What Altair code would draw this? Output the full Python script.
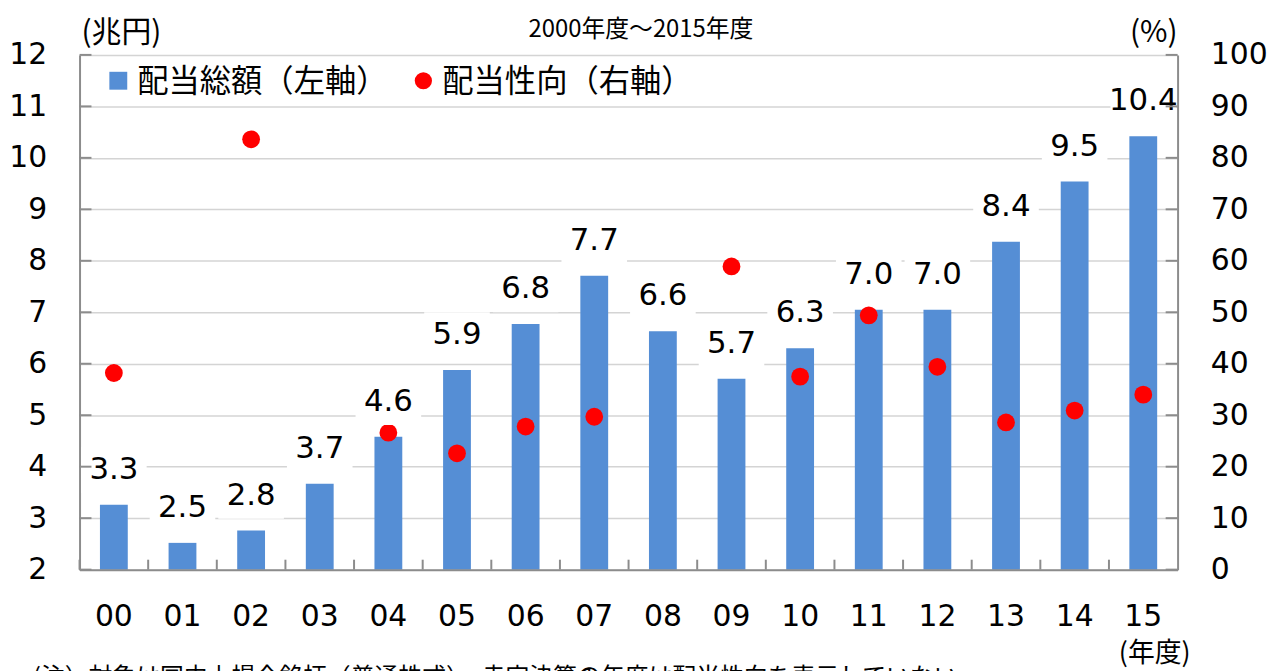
import altair as alt
import pandas as pd

# ---- data ----
years = ["00", "01", "02", "03", "04", "05", "06", "07",
         "08", "09", "10", "11", "12", "13", "14", "15"]
totals = [3.26, 2.52, 2.76, 3.67, 4.58, 5.88, 6.77, 7.71,
          6.63, 5.71, 6.30, 7.05, 7.05, 8.37, 9.54, 10.42]
total_labels = ["3.3", "2.5", "2.8", "3.7", "4.6", "5.9", "6.8", "7.7",
                "6.6", "5.7", "6.3", "7.0", "7.0", "8.4", "9.5", "10.4"]
payout = [38.2, None, 83.6, None, 26.6, 22.6, 27.8, 29.7,
          None, 58.9, 37.5, 49.4, 39.4, 28.6, 30.9, 34.0]
left_ticks = list(range(2, 13))
right_ticks = list(range(0, 101, 10))

title_text = "2000年度～2015年度"
left_unit = "(兆円)"
right_unit = "(%)"
x_unit = "(年度)"
legend_bar = "配当総額（左軸）"
legend_dot = "配当性向（右軸）"
note = "(注）対象は国内上場全銘柄（普通株式）、赤字決算の年度は配当性向を表示していない"

W, H = 1105, 518
BLUE = "#558ED5"
RED = "#FF0000"
AXIS_GRAY = "#8C8C8C"
GRID_GRAY = "#D4D4D4"
NUM_FONT = "DejaVu Sans, Noto Sans CJK JP"
JP_FONT = "Noto Sans CJK JP"

df = pd.DataFrame({"year": years, "total": totals, "label": total_labels, "payout": payout})

yl = alt.Scale(domain=[2, 12], zero=False, nice=False)
yr = alt.Scale(domain=[0, 100], zero=True, nice=False)

x_main = alt.X(
    "year:N", sort=years,
    scale=alt.Scale(paddingInner=0, paddingOuter=0),
    axis=alt.Axis(title=None, labelFontSize=30, labelFont=NUM_FONT, labelColor="black",
                  labelPadding=32, ticks=False, domainColor=AXIS_GRAY, domainWidth=2,
                  labelAngle=0, zindex=1),
)
x_plain = alt.X("year:N", sort=years)

base = alt.Chart(df)

bars = base.mark_bar(size=28, color=BLUE).encode(
    x=x_main,
    y=alt.Y("total:Q", scale=yl,
            axis=alt.Axis(title=None, values=left_ticks, grid=True, gridColor=GRID_GRAY,
                          gridWidth=1.5, ticks=False, labelFontSize=30, labelFont=NUM_FONT,
                          labelColor="black", labelPadding=33, domainColor=AXIS_GRAY,
                          domainWidth=2)),
    y2=alt.Y2(datum=2),
)

dots = base.mark_circle(size=320, color=RED, opacity=1).encode(
    x=x_plain,
    y=alt.Y("payout:Q", scale=yr,
            axis=alt.Axis(orient="right", title=None, values=right_ticks, grid=False,
                          ticks=False, labelFontSize=30, labelFont=NUM_FONT,
                          labelColor="black", labelPadding=33, labelAlign="left",
                          domainColor=AXIS_GRAY, domainWidth=2)),
)

BOX = "M-1,-0.7L1,-0.7L1,0.7L-1,0.7Z"
boxes = base.mark_point(shape=BOX, filled=True, color="white", opacity=1,
                        size=66 * 66, strokeWidth=0, yOffset=-35).encode(
    x=x_plain,
    y=alt.Y("total:Q", scale=yl, axis=None),
)

labels = base.mark_text(fontSize=31, font=NUM_FONT, color="black", baseline="middle",
                        yOffset=-35).encode(
    x=x_plain,
    y=alt.Y("total:Q", scale=yl, axis=None),
    text="label:N",
)

lt_df = pd.DataFrame({"t": left_ticks})
rt_df = pd.DataFrame({"t": right_ticks})

left_tick_marks = alt.Chart(lt_df).mark_rule(color=AXIS_GRAY, strokeWidth=2).encode(
    x=alt.value(0), x2=alt.value(12),
    y=alt.Y("t:Q", scale=yl, axis=None),
)
right_tick_marks = alt.Chart(rt_df).mark_rule(color=AXIS_GRAY, strokeWidth=2).encode(
    x=alt.value(W - 12), x2=alt.value(W),
    y=alt.Y("t:Q", scale=yr, axis=None),
)
bottom_tick_marks = base.mark_rule(color=AXIS_GRAY, strokeWidth=2).encode(
    x=alt.X("year:N", sort=years, bandPosition=0),
    y=alt.value(H - 10), y2=alt.value(H),
)


def text_layer(txt, x, y, size, align="left", font=JP_FONT, baseline="middle"):
    return alt.Chart(pd.DataFrame({"t": [txt]})).mark_text(
        fontSize=size, font=font, align=align, baseline=baseline, color="black"
    ).encode(x=alt.value(x), y=alt.value(y), text="t:N")


title = text_layer(title_text, 565, -25, 24, align="center")
unit_l = text_layer(left_unit, 2, -22, 30)
unit_r = text_layer(right_unit, W, -22, 30, align="right")
unit_x = text_layer(x_unit, 1082, 603, 27, align="center")
footnote = text_layer(note, -47, 634, 24, baseline="alphabetic")

leg_sq = alt.Chart(pd.DataFrame({"t": [legend_bar]})).mark_point(
    shape="square", filled=True, color=BLUE, opacity=1, size=324
).encode(x=alt.value(39), y=alt.value(26))
leg_sq_txt = text_layer(legend_bar, 58, 28, 31.5)
leg_dot = alt.Chart(pd.DataFrame({"t": [legend_dot]})).mark_circle(
    color=RED, opacity=1, size=300
).encode(x=alt.value(346), y=alt.value(26))
leg_dot_txt = text_layer(legend_dot, 365, 28, 31.5)

chart = alt.layer(
    bars, dots, boxes, labels,
    left_tick_marks, right_tick_marks, bottom_tick_marks,
    title, unit_l, unit_r, unit_x, footnote,
    leg_sq, leg_sq_txt, leg_dot, leg_dot_txt,
).resolve_scale(y="independent").properties(
    width=W, height=H,
    autosize=alt.AutoSizeParams(type="none"),
    padding={"left": 72, "top": 45, "right": 92, "bottom": 130},
).configure_view(strokeWidth=0)

chart.save("out.html", embed_options={"renderer": "svg", "actions": False})
